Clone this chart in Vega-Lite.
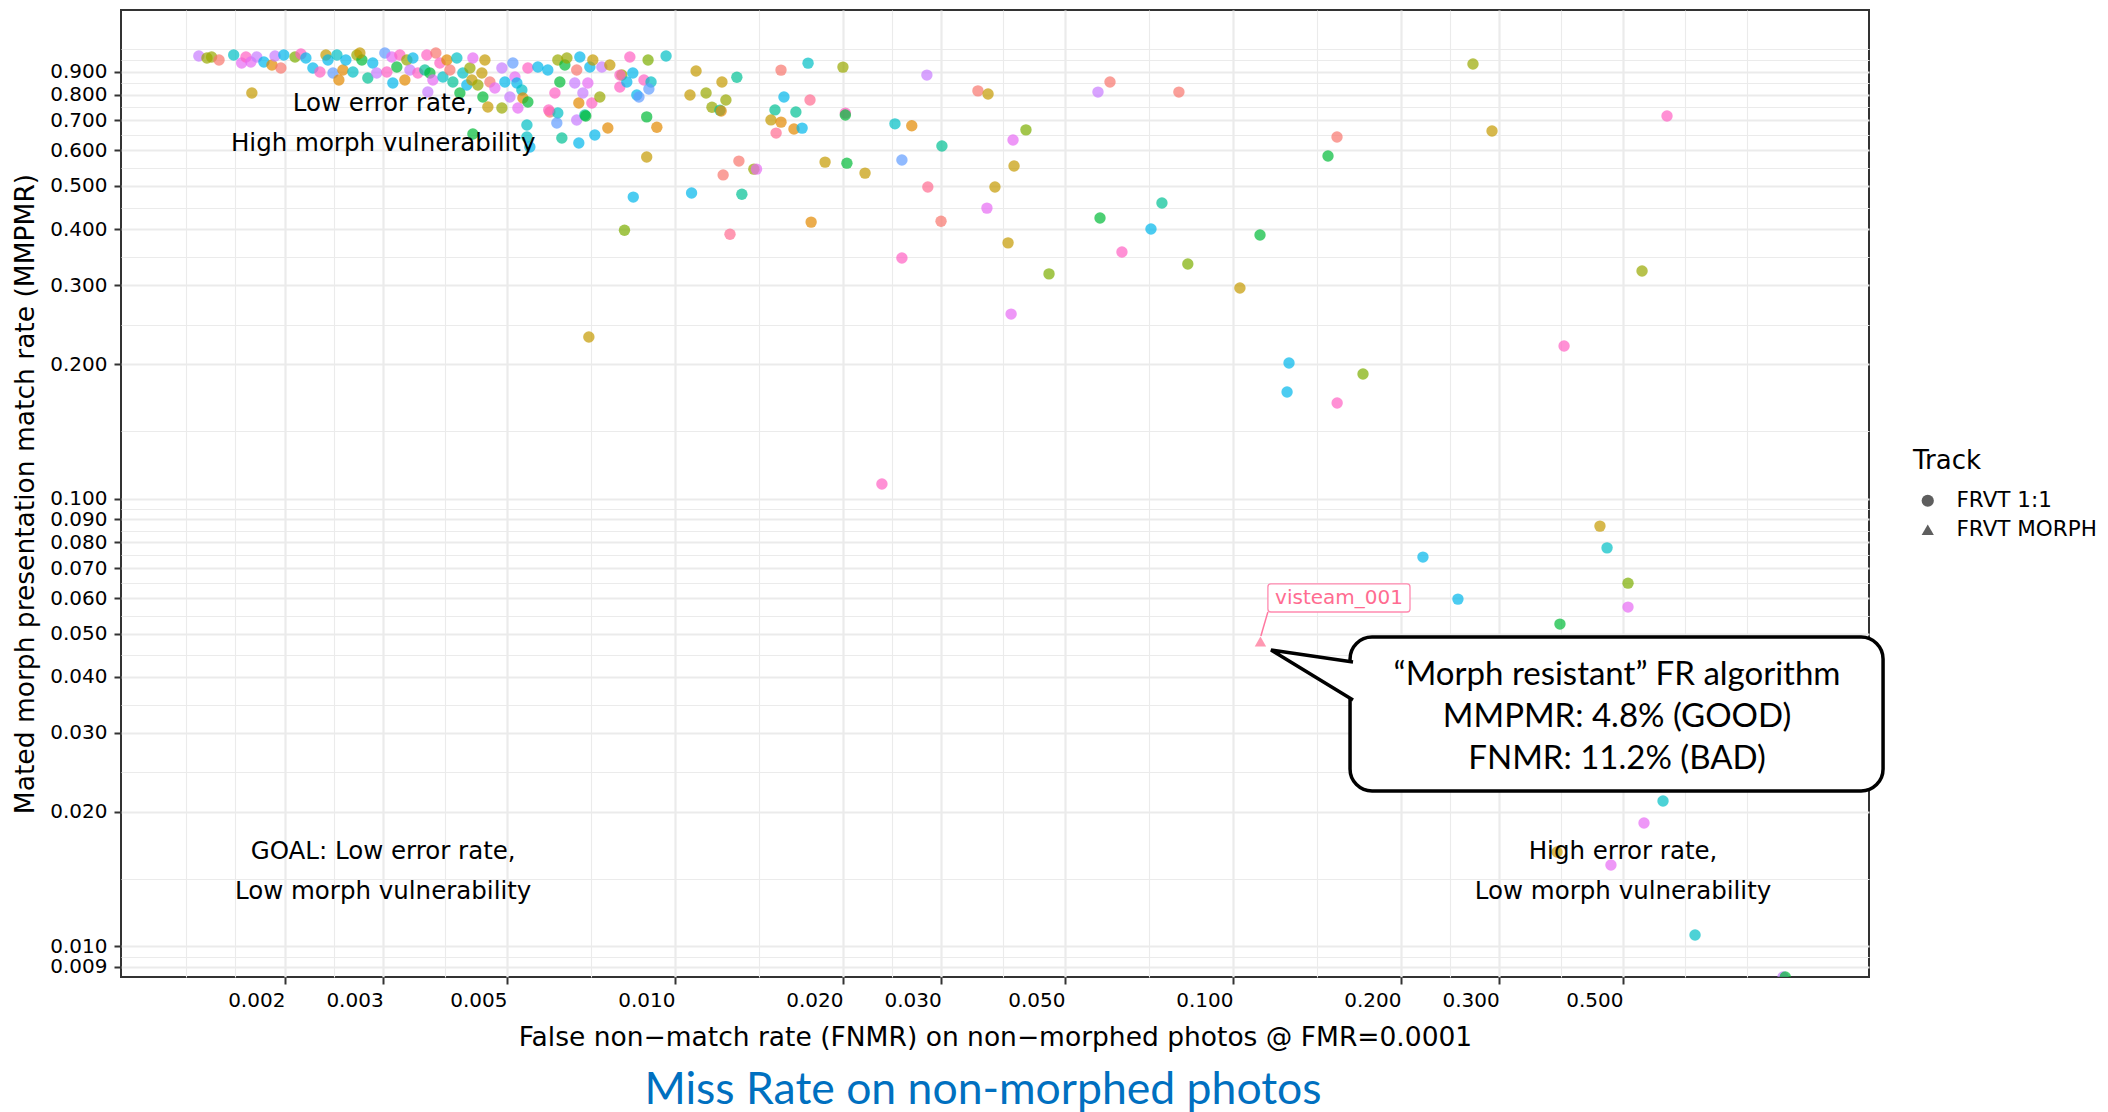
{
"$schema": "https://vega.github.io/schema/vega-lite/v6.json",
"width": 1748, "height": 967,
"autosize": {"type": "none"},
"padding": {"left": 121, "top": 10, "right": 239, "bottom": 135},
"background": "white",
"title": {"text": "Miss Rate on non-morphed photos", "orient": "bottom", "anchor": "middle", "font": "Lato", "fontSize": 44.5, "fontWeight": "normal", "color": "#0070C0", "offset": 18, "dx": -12},
"config": {"view": {"stroke": "#333333", "strokeWidth": 2}, "font": "DejaVu Sans"},
"datasets": {
"pts": [
{"fnmr":0.001402,"mmpmr":0.9751,"dev":"P","track":"FRVT 1:1"},
{"fnmr":0.00145,"mmpmr":0.9652,"dev":"V","track":"FRVT 1:1"},
{"fnmr":0.001478,"mmpmr":0.9701,"dev":"V","track":"FRVT 1:1"},
{"fnmr":0.001524,"mmpmr":0.9553,"dev":"S","track":"FRVT 1:1"},
{"fnmr":0.001619,"mmpmr":0.9801,"dev":"Q","track":"FRVT 1:1"},
{"fnmr":0.001673,"mmpmr":0.9406,"dev":"M","track":"FRVT 1:1"},
{"fnmr":0.001703,"mmpmr":0.9701,"dev":"K","track":"FRVT 1:1"},
{"fnmr":0.001738,"mmpmr":0.9455,"dev":"M","track":"FRVT 1:1"},
{"fnmr":0.001781,"mmpmr":0.9701,"dev":"P","track":"FRVT 1:1"},
{"fnmr":0.001834,"mmpmr":0.9455,"dev":"C","track":"FRVT 1:1"},
{"fnmr":0.001896,"mmpmr":0.931,"dev":"O","track":"FRVT 1:1"},
{"fnmr":0.00192,"mmpmr":0.9751,"dev":"P","track":"FRVT 1:1"},
{"fnmr":0.001967,"mmpmr":0.9168,"dev":"S","track":"FRVT 1:1"},
{"fnmr":0.001991,"mmpmr":0.9801,"dev":"C","track":"FRVT 1:1"},
{"fnmr":0.002085,"mmpmr":0.9701,"dev":"L","track":"FRVT 1:1"},
{"fnmr":0.002137,"mmpmr":0.985,"dev":"K","track":"FRVT 1:1"},
{"fnmr":0.002181,"mmpmr":0.9652,"dev":"C","track":"FRVT 1:1"},
{"fnmr":0.002245,"mmpmr":0.9168,"dev":"C","track":"FRVT 1:1"},
{"fnmr":0.002311,"mmpmr":0.8981,"dev":"K","track":"FRVT 1:1"},
{"fnmr":0.002369,"mmpmr":0.9801,"dev":"G","track":"FRVT 1:1"},
{"fnmr":0.002389,"mmpmr":0.9553,"dev":"C","track":"FRVT 1:1"},
{"fnmr":0.002439,"mmpmr":0.8935,"dev":"B","track":"FRVT 1:1"},
{"fnmr":0.002479,"mmpmr":0.9801,"dev":"Q","track":"FRVT 1:1"},
{"fnmr":0.002499,"mmpmr":0.8619,"dev":"O","track":"FRVT 1:1"},
{"fnmr":0.002541,"mmpmr":0.9073,"dev":"O","track":"FRVT 1:1"},
{"fnmr":0.002572,"mmpmr":0.9553,"dev":"C","track":"FRVT 1:1"},
{"fnmr":0.002648,"mmpmr":0.8981,"dev":"Q","track":"FRVT 1:1"},
{"fnmr":0.002692,"mmpmr":0.9801,"dev":"V","track":"FRVT 1:1"},
{"fnmr":0.002748,"mmpmr":0.9553,"dev":"N","track":"FRVT 1:1"},
{"fnmr":0.002725,"mmpmr":0.9903,"dev":"G","track":"FRVT 1:1"},
{"fnmr":0.002816,"mmpmr":0.8708,"dev":"T","track":"FRVT 1:1"},
{"fnmr":0.002874,"mmpmr":0.9406,"dev":"C","track":"FRVT 1:1"},
{"fnmr":0.002921,"mmpmr":0.8935,"dev":"P","track":"FRVT 1:1"},
{"fnmr":0.003021,"mmpmr":0.9903,"dev":"B","track":"FRVT 1:1"},
{"fnmr":0.003046,"mmpmr":0.8981,"dev":"K","track":"FRVT 1:1"},
{"fnmr":0.003109,"mmpmr":0.9701,"dev":"M","track":"FRVT 1:1"},
{"fnmr":0.003122,"mmpmr":0.8487,"dev":"C","track":"FRVT 1:1"},
{"fnmr":0.003174,"mmpmr":0.9215,"dev":"N","track":"FRVT 1:1"},
{"fnmr":0.003214,"mmpmr":0.9801,"dev":"K","track":"FRVT 1:1"},
{"fnmr":0.003281,"mmpmr":0.8619,"dev":"O","track":"FRVT 1:1"},
{"fnmr":0.003308,"mmpmr":0.9553,"dev":"V","track":"FRVT 1:1"},
{"fnmr":0.00335,"mmpmr":0.9073,"dev":"P","track":"FRVT 1:1"},
{"fnmr":0.003392,"mmpmr":0.9652,"dev":"C","track":"FRVT 1:1"},
{"fnmr":0.003462,"mmpmr":0.8935,"dev":"K","track":"FRVT 1:1"},
{"fnmr":0.003563,"mmpmr":0.9073,"dev":"T","track":"FRVT 1:1"},
{"fnmr":0.003592,"mmpmr":0.9801,"dev":"K","track":"FRVT 1:1"},
{"fnmr":0.003607,"mmpmr":0.8103,"dev":"P","track":"FRVT 1:1"},
{"fnmr":0.003638,"mmpmr":0.8935,"dev":"N","track":"FRVT 1:1"},
{"fnmr":0.003683,"mmpmr":0.8619,"dev":"M","track":"FRVT 1:1"},
{"fnmr":0.003729,"mmpmr":0.9903,"dev":"S","track":"FRVT 1:1"},
{"fnmr":0.003791,"mmpmr":0.9406,"dev":"K","track":"FRVT 1:1"},
{"fnmr":0.003839,"mmpmr":0.8753,"dev":"Q","track":"FRVT 1:1"},
{"fnmr":0.003902,"mmpmr":0.9553,"dev":"O","track":"FRVT 1:1"},
{"fnmr":0.003951,"mmpmr":0.9073,"dev":"S","track":"FRVT 1:1"},
{"fnmr":0.004,"mmpmr":0.853,"dev":"T","track":"FRVT 1:1"},
{"fnmr":0.004066,"mmpmr":0.9652,"dev":"Q","track":"FRVT 1:1"},
{"fnmr":0.004117,"mmpmr":0.8061,"dev":"N","track":"FRVT 1:1"},
{"fnmr":0.004168,"mmpmr":0.8935,"dev":"Q","track":"FRVT 1:1"},
{"fnmr":0.004237,"mmpmr":0.84,"dev":"C","track":"FRVT 1:1"},
{"fnmr":0.004291,"mmpmr":0.9168,"dev":"V","track":"FRVT 1:1"},
{"fnmr":0.004326,"mmpmr":0.8619,"dev":"G","track":"FRVT 1:1"},
{"fnmr":0.004344,"mmpmr":0.9652,"dev":"M","track":"FRVT 1:1"},
{"fnmr":0.004434,"mmpmr":0.84,"dev":"V","track":"FRVT 1:1"},
{"fnmr":0.004508,"mmpmr":0.8935,"dev":"G","track":"FRVT 1:1"},
{"fnmr":0.004565,"mmpmr":0.9553,"dev":"G","track":"FRVT 1:1"},
{"fnmr":0.004527,"mmpmr":0.7897,"dev":"N","track":"FRVT 1:1"},
{"fnmr":0.004621,"mmpmr":0.7501,"dev":"G","track":"FRVT 1:1"},
{"fnmr":0.00466,"mmpmr":0.853,"dev":"S","track":"FRVT 1:1"},
{"fnmr":0.004757,"mmpmr":0.8271,"dev":"M","track":"FRVT 1:1"},
{"fnmr":0.004896,"mmpmr":0.9168,"dev":"P","track":"FRVT 1:1"},
{"fnmr":0.004896,"mmpmr":0.7462,"dev":"V","track":"FRVT 1:1"},
{"fnmr":0.004957,"mmpmr":0.853,"dev":"C","track":"FRVT 1:1"},
{"fnmr":0.005061,"mmpmr":0.7897,"dev":"P","track":"FRVT 1:1"},
{"fnmr":0.005124,"mmpmr":0.9406,"dev":"B","track":"FRVT 1:1"},
{"fnmr":0.005167,"mmpmr":0.8753,"dev":"M","track":"FRVT 1:1"},
{"fnmr":0.005209,"mmpmr":0.8487,"dev":"C","track":"FRVT 1:1"},
{"fnmr":0.005231,"mmpmr":0.7462,"dev":"M","track":"FRVT 1:1"},
{"fnmr":0.005317,"mmpmr":0.8187,"dev":"Q","track":"FRVT 1:1"},
{"fnmr":0.00534,"mmpmr":0.7857,"dev":"O","track":"FRVT 1:1"},
{"fnmr":0.005451,"mmpmr":0.9168,"dev":"K","track":"FRVT 1:1"},
{"fnmr":0.005429,"mmpmr":0.6838,"dev":"Q","track":"FRVT 1:1"},
{"fnmr":0.005451,"mmpmr":0.7696,"dev":"N","track":"FRVT 1:1"},
{"fnmr":0.005429,"mmpmr":0.6429,"dev":"Q","track":"FRVT 1:1"},
{"fnmr":0.005496,"mmpmr":0.6106,"dev":"C","track":"FRVT 1:1"},
{"fnmr":0.00568,"mmpmr":0.9215,"dev":"C","track":"FRVT 1:1"},
{"fnmr":0.005918,"mmpmr":0.9073,"dev":"C","track":"FRVT 1:1"},
{"fnmr":0.005968,"mmpmr":0.731,"dev":"S","track":"FRVT 1:1"},
{"fnmr":0.006167,"mmpmr":0.9553,"dev":"V","track":"FRVT 1:1"},
{"fnmr":0.006219,"mmpmr":0.853,"dev":"N","track":"FRVT 1:1"},
{"fnmr":0.006094,"mmpmr":0.8061,"dev":"K","track":"FRVT 1:1"},
{"fnmr":0.006167,"mmpmr":0.7273,"dev":"Q","track":"FRVT 1:1"},
{"fnmr":0.006142,"mmpmr":0.6908,"dev":"B","track":"FRVT 1:1"},
{"fnmr":0.00635,"mmpmr":0.931,"dev":"N","track":"FRVT 1:1"},
{"fnmr":0.006403,"mmpmr":0.9652,"dev":"V","track":"FRVT 1:1"},
{"fnmr":0.006271,"mmpmr":0.6396,"dev":"T","track":"FRVT 1:1"},
{"fnmr":0.006614,"mmpmr":0.8487,"dev":"P","track":"FRVT 1:1"},
{"fnmr":0.006668,"mmpmr":0.9073,"dev":"S","track":"FRVT 1:1"},
{"fnmr":0.006726,"mmpmr":0.7657,"dev":"O","track":"FRVT 1:1"},
{"fnmr":0.006668,"mmpmr":0.7015,"dev":"P","track":"FRVT 1:1"},
{"fnmr":0.006726,"mmpmr":0.6233,"dev":"C","track":"FRVT 1:1"},
{"fnmr":0.006754,"mmpmr":0.9701,"dev":"C","track":"FRVT 1:1"},
{"fnmr":0.006895,"mmpmr":0.7198,"dev":"T","track":"FRVT 1:1"},
{"fnmr":0.006839,"mmpmr":0.8061,"dev":"P","track":"FRVT 1:1"},
{"fnmr":0.006981,"mmpmr":0.8487,"dev":"M","track":"FRVT 1:1"},
{"fnmr":0.007039,"mmpmr":0.9215,"dev":"C","track":"FRVT 1:1"},
{"fnmr":0.007097,"mmpmr":0.7657,"dev":"K","track":"FRVT 1:1"},
{"fnmr":0.007126,"mmpmr":0.9553,"dev":"G","track":"FRVT 1:1"},
{"fnmr":0.007185,"mmpmr":0.6496,"dev":"C","track":"FRVT 1:1"},
{"fnmr":0.007335,"mmpmr":0.7897,"dev":"V","track":"FRVT 1:1"},
{"fnmr":0.007396,"mmpmr":0.9215,"dev":"P","track":"FRVT 1:1"},
{"fnmr":0.007644,"mmpmr":0.931,"dev":"G","track":"FRVT 1:1"},
{"fnmr":0.007581,"mmpmr":0.6734,"dev":"O","track":"FRVT 1:1"},
{"fnmr":0.007966,"mmpmr":0.8314,"dev":"K","track":"FRVT 1:1"},
{"fnmr":0.008032,"mmpmr":0.8844,"dev":"V","track":"FRVT 1:1"},
{"fnmr":0.008199,"mmpmr":0.853,"dev":"C","track":"FRVT 1:1"},
{"fnmr":0.008302,"mmpmr":0.9701,"dev":"K","track":"FRVT 1:1"},
{"fnmr":0.008405,"mmpmr":0.8935,"dev":"C","track":"FRVT 1:1"},
{"fnmr":0.008544,"mmpmr":0.7979,"dev":"C","track":"FRVT 1:1"},
{"fnmr":0.001745,"mmpmr":0.8061,"dev":"G","track":"FRVT 1:1"},
{"fnmr":0.004344,"mmpmr":0.6529,"dev":"N","track":"FRVT 1:1"},
{"fnmr":0.00594,"mmpmr":0.7386,"dev":"K","track":"FRVT 1:1"},
{"fnmr":0.00692,"mmpmr":0.7161,"dev":"N","track":"FRVT 1:1"},
{"fnmr":0.00895,"mmpmr":0.955,"dev":"L","track":"FRVT 1:1"},
{"fnmr":0.00964,"mmpmr":0.975,"dev":"Q","track":"FRVT 1:1"},
{"fnmr":0.00797,"mmpmr":0.884,"dev":"K","track":"FRVT 1:1"},
{"fnmr":0.0088,"mmpmr":0.862,"dev":"K","track":"FRVT 1:1"},
{"fnmr":0.00906,"mmpmr":0.853,"dev":"Q","track":"FRVT 1:1"},
{"fnmr":0.00898,"mmpmr":0.823,"dev":"B","track":"FRVT 1:1"},
{"fnmr":0.00862,"mmpmr":0.79,"dev":"B","track":"FRVT 1:1"},
{"fnmr":0.0089,"mmpmr":0.713,"dev":"N","track":"FRVT 1:1"},
{"fnmr":0.00928,"mmpmr":0.676,"dev":"O","track":"FRVT 1:1"},
{"fnmr":0.0089,"mmpmr":0.58,"dev":"G","track":"FRVT 1:1"},
{"fnmr":0.00842,"mmpmr":0.472,"dev":"C","track":"FRVT 1:1"},
{"fnmr":0.00812,"mmpmr":0.398,"dev":"L","track":"FRVT 1:1"},
{"fnmr":0.01091,"mmpmr":0.903,"dev":"G","track":"FRVT 1:1"},
{"fnmr":0.01214,"mmpmr":0.853,"dev":"G","track":"FRVT 1:1"},
{"fnmr":0.01291,"mmpmr":0.874,"dev":"T","track":"FRVT 1:1"},
{"fnmr":0.01064,"mmpmr":0.798,"dev":"G","track":"FRVT 1:1"},
{"fnmr":0.01137,"mmpmr":0.806,"dev":"V","track":"FRVT 1:1"},
{"fnmr":0.01234,"mmpmr":0.778,"dev":"V","track":"FRVT 1:1"},
{"fnmr":0.01165,"mmpmr":0.749,"dev":"V","track":"FRVT 1:1"},
{"fnmr":0.01204,"mmpmr":0.738,"dev":"T","track":"FRVT 1:1"},
{"fnmr":0.0121,"mmpmr":0.735,"dev":"O","track":"FRVT 1:1"},
{"fnmr":0.01302,"mmpmr":0.568,"dev":"S","track":"FRVT 1:1"},
{"fnmr":0.0122,"mmpmr":0.529,"dev":"S","track":"FRVT 1:1"},
{"fnmr":0.01385,"mmpmr":0.545,"dev":"V","track":"FRVT 1:1"},
{"fnmr":0.014,"mmpmr":0.545,"dev":"M","track":"FRVT 1:1"},
{"fnmr":0.01071,"mmpmr":0.482,"dev":"C","track":"FRVT 1:1"},
{"fnmr":0.01318,"mmpmr":0.479,"dev":"T","track":"FRVT 1:1"},
{"fnmr":0.01255,"mmpmr":0.39,"dev":"R","track":"FRVT 1:1"},
{"fnmr":0.01549,"mmpmr":0.907,"dev":"S","track":"FRVT 1:1"},
{"fnmr":0.01732,"mmpmr":0.94,"dev":"Q","track":"FRVT 1:1"},
{"fnmr":0.02,"mmpmr":0.921,"dev":"V","track":"FRVT 1:1"},
{"fnmr":0.01568,"mmpmr":0.79,"dev":"C","track":"FRVT 1:1"},
{"fnmr":0.01746,"mmpmr":0.778,"dev":"R","track":"FRVT 1:1"},
{"fnmr":0.01511,"mmpmr":0.739,"dev":"T","track":"FRVT 1:1"},
{"fnmr":0.01647,"mmpmr":0.731,"dev":"T","track":"FRVT 1:1"},
{"fnmr":0.0202,"mmpmr":0.727,"dev":"K","track":"FRVT 1:1"},
{"fnmr":0.0202,"mmpmr":0.72,"dev":"N","track":"FRVT 1:1"},
{"fnmr":0.01486,"mmpmr":0.702,"dev":"G","track":"FRVT 1:1"},
{"fnmr":0.01549,"mmpmr":0.694,"dev":"O","track":"FRVT 1:1"},
{"fnmr":0.01518,"mmpmr":0.656,"dev":"R","track":"FRVT 1:1"},
{"fnmr":0.01634,"mmpmr":0.67,"dev":"O","track":"FRVT 1:1"},
{"fnmr":0.0169,"mmpmr":0.673,"dev":"C","track":"FRVT 1:1"},
{"fnmr":0.01858,"mmpmr":0.565,"dev":"G","track":"FRVT 1:1"},
{"fnmr":0.02033,"mmpmr":0.562,"dev":"N","track":"FRVT 1:1"},
{"fnmr":0.02191,"mmpmr":0.534,"dev":"G","track":"FRVT 1:1"},
{"fnmr":0.01754,"mmpmr":0.415,"dev":"O","track":"FRVT 1:1"},
{"fnmr":0.02479,"mmpmr":0.688,"dev":"Q","track":"FRVT 1:1"},
{"fnmr":0.02657,"mmpmr":0.681,"dev":"O","track":"FRVT 1:1"},
{"fnmr":0.02828,"mmpmr":0.884,"dev":"P","track":"FRVT 1:1"},
{"fnmr":0.02551,"mmpmr":0.571,"dev":"B","track":"FRVT 1:1"},
{"fnmr":0.02839,"mmpmr":0.497,"dev":"R","track":"FRVT 1:1"},
{"fnmr":0.02551,"mmpmr":0.345,"dev":"K","track":"FRVT 1:1"},
{"fnmr":0.03009,"mmpmr":0.614,"dev":"T","track":"FRVT 1:1"},
{"fnmr":0.03491,"mmpmr":0.815,"dev":"S","track":"FRVT 1:1"},
{"fnmr":0.0364,"mmpmr":0.802,"dev":"G","track":"FRVT 1:1"},
{"fnmr":0.04035,"mmpmr":0.633,"dev":"M","track":"FRVT 1:1"},
{"fnmr":0.04256,"mmpmr":0.667,"dev":"L","track":"FRVT 1:1"},
{"fnmr":0.04052,"mmpmr":0.554,"dev":"G","track":"FRVT 1:1"},
{"fnmr":0.03745,"mmpmr":0.497,"dev":"G","track":"FRVT 1:1"},
{"fnmr":0.03623,"mmpmr":0.446,"dev":"M","track":"FRVT 1:1"},
{"fnmr":0.02998,"mmpmr":0.417,"dev":"S","track":"FRVT 1:1"},
{"fnmr":0.03953,"mmpmr":0.373,"dev":"G","track":"FRVT 1:1"},
{"fnmr":0.04003,"mmpmr":0.2586,"dev":"M","track":"FRVT 1:1"},
{"fnmr":0.04681,"mmpmr":0.318,"dev":"L","track":"FRVT 1:1"},
{"fnmr":0.05729,"mmpmr":0.81,"dev":"P","track":"FRVT 1:1"},
{"fnmr":0.0602,"mmpmr":0.853,"dev":"S","track":"FRVT 1:1"},
{"fnmr":0.08,"mmpmr":0.81,"dev":"S","track":"FRVT 1:1"},
{"fnmr":0.05777,"mmpmr":0.424,"dev":"N","track":"FRVT 1:1"},
{"fnmr":0.07459,"mmpmr":0.458,"dev":"T","track":"FRVT 1:1"},
{"fnmr":0.07129,"mmpmr":0.4005,"dev":"C","track":"FRVT 1:1"},
{"fnmr":0.06324,"mmpmr":0.3559,"dev":"K","track":"FRVT 1:1"},
{"fnmr":0.083,"mmpmr":0.3346,"dev":"L","track":"FRVT 1:1"},
{"fnmr":0.1118,"mmpmr":0.3884,"dev":"N","track":"FRVT 1:1"},
{"fnmr":0.1029,"mmpmr":0.2957,"dev":"G","track":"FRVT 1:1"},
{"fnmr":0.02349,"mmpmr":0.1079,"dev":"K","track":"FRVT 1:1"},
{"fnmr":0.00701,"mmpmr":0.2298,"dev":"G","track":"FRVT 1:1"},
{"fnmr":0.2692,"mmpmr":0.936,"dev":"V","track":"FRVT 1:1"},
{"fnmr":0.2912,"mmpmr":0.663,"dev":"G","track":"FRVT 1:1"},
{"fnmr":0.5995,"mmpmr":0.7161,"dev":"K","track":"FRVT 1:1"},
{"fnmr":0.1536,"mmpmr":0.6429,"dev":"S","track":"FRVT 1:1"},
{"fnmr":0.148,"mmpmr":0.5832,"dev":"N","track":"FRVT 1:1"},
{"fnmr":0.5408,"mmpmr":0.3227,"dev":"V","track":"FRVT 1:1"},
{"fnmr":0.392,"mmpmr":0.2194,"dev":"K","track":"FRVT 1:1"},
{"fnmr":0.126,"mmpmr":0.201,"dev":"C","track":"FRVT 1:1"},
{"fnmr":0.171,"mmpmr":0.19,"dev":"L","track":"FRVT 1:1"},
{"fnmr":0.125,"mmpmr":0.1732,"dev":"C","track":"FRVT 1:1"},
{"fnmr":0.1537,"mmpmr":0.1637,"dev":"K","track":"FRVT 1:1"},
{"fnmr":0.4546,"mmpmr":0.0869,"dev":"G","track":"FRVT 1:1"},
{"fnmr":0.4681,"mmpmr":0.0777,"dev":"Q","track":"FRVT 1:1"},
{"fnmr":0.219,"mmpmr":0.0741,"dev":"C","track":"FRVT 1:1"},
{"fnmr":0.5104,"mmpmr":0.0648,"dev":"L","track":"FRVT 1:1"},
{"fnmr":0.253,"mmpmr":0.0597,"dev":"C","track":"FRVT 1:1"},
{"fnmr":0.5104,"mmpmr":0.0573,"dev":"M","track":"FRVT 1:1"},
{"fnmr":0.3854,"mmpmr":0.0525,"dev":"N","track":"FRVT 1:1"},
{"fnmr":0.5897,"mmpmr":0.02113,"dev":"Q","track":"FRVT 1:1"},
{"fnmr":0.5452,"mmpmr":0.01887,"dev":"M","track":"FRVT 1:1"},
{"fnmr":0.3808,"mmpmr":0.01626,"dev":"G","track":"FRVT 1:1"},
{"fnmr":0.4757,"mmpmr":0.01521,"dev":"M","track":"FRVT 1:1"},
{"fnmr":0.673,"mmpmr":0.01061,"dev":"Q","track":"FRVT 1:1"},
{"fnmr":0.9676,"mmpmr":0.00855,"dev":"P","track":"FRVT 1:1"},
{"fnmr":0.9766,"mmpmr":0.00855,"dev":"N","track":"FRVT 1:1"},
{"fnmr":0.112,"mmpmr":0.048,"dev":"visteam","track":"FRVT MORPH"}
],
"notes": [
{"fnmr":0.003,"mmpmr":0.7,"label":"Low error rate,\nHigh morph vulnerability"},
{"fnmr":0.003,"mmpmr":0.015,"label":"GOAL: Low error rate,\nLow morph vulnerability"},
{"fnmr":0.5,"mmpmr":0.015,"label":"High error rate,\nLow morph vulnerability"}
],
"box": [{"fnmr":0.1621,"fnmr2":1.462,"mmpmr":0.04913,"mmpmr2":0.02225}],
"tailfill": [
{"fnmr":0.117,"mmpmr":0.04596,"mmpmr2":0.04596},
{"fnmr":0.1645,"mmpmr":0.0432,"mmpmr2":0.03552}
],
"tail": [
{"fnmr":0.1641,"mmpmr":0.0432,"seq":1},
{"fnmr":0.117,"mmpmr":0.04596,"seq":2},
{"fnmr":0.1641,"mmpmr":0.03552,"seq":3}
],
"boxtext": [{"fnmr":0.4878,"mmpmr":0.03256,"label":"“Morph resistant” FR algorithm\nMMPMR: 4.8% (GOOD)\nFNMR: 11.2% (BAD)"}],
"leader": [{"fnmr":0.1122,"mmpmr":0.0494,"fnmr2":0.1155,"mmpmr2":0.0559}],
"tagbox": [{"fnmr":0.1155,"fnmr2":0.2076,"mmpmr":0.06453,"mmpmr2":0.05587}],
"tag": [{"fnmr":0.1549,"mmpmr":0.06003,"label":"visteam_001"}]
},
"encoding": {
"x": {"field": "fnmr", "type": "quantitative",
 "scale": {"type": "log", "domain": [0.001017, 1.3796], "nice": false, "zero": false},
 "axis": {"title": "False non−match rate (FNMR) on non−morphed photos @ FMR=0.0001",
  "values": [0.00133,0.00163,0.002,0.00245,0.003,0.00387,0.005,0.00707,0.01,0.01414,0.02,0.02449,0.03,0.03873,0.05,0.07071,0.1,0.1414,0.2,0.2449,0.3,0.3873,0.5,0.6455,0.8333],
  "labelExpr": "indexof([0.002,0.003,0.005,0.01,0.02,0.03,0.05,0.1,0.2,0.3,0.5], datum.value) >= 0 ? format(datum.value, '.3f') : ''",
  "gridWidth": {"condition": {"test": "indexof([0.002,0.003,0.005,0.01,0.02,0.03,0.05,0.1,0.2,0.3,0.5], datum.value) >= 0", "value": 2.2}, "value": 1.1},
  "tickOpacity": {"condition": {"test": "indexof([0.002,0.003,0.005,0.01,0.02,0.03,0.05,0.1,0.2,0.3,0.5], datum.value) >= 0", "value": 1}, "value": 0},
  "gridColor": "#EBEBEB", "labelOverlap": false, "domain": false, "tickSize": 7, "tickWidth": 2, "tickColor": "#333333",
  "labelFont": "DejaVu Sans", "labelFontSize": 20, "labelColor": "#000000", "labelPadding": 6, "labelAlign": "right",
  "titleFont": "DejaVu Sans", "titleFontSize": 26.5, "titleFontWeight": "normal", "titleColor": "#000000", "titlePadding": 14}},
"y": {"field": "mmpmr", "type": "quantitative",
 "scale": {"type": "log", "domain": [0.008548, 1.2355], "nice": false, "zero": false},
 "axis": {"title": "Mated morph presentation match rate (MMPMR)",
  "values": [0.009,0.009487,0.01,0.01414,0.02,0.02449,0.03,0.03464,0.04,0.04472,0.05,0.05477,0.06,0.06481,0.07,0.07483,0.08,0.08485,0.09,0.09487,0.1,0.1414,0.2,0.2449,0.3,0.3464,0.4,0.4472,0.5,0.5477,0.6,0.6481,0.7,0.7483,0.8,0.8485,0.9,0.9546,1.0125],
  "labelExpr": "indexof([0.009,0.01,0.02,0.03,0.04,0.05,0.06,0.07,0.08,0.09,0.1,0.2,0.3,0.4,0.5,0.6,0.7,0.8,0.9], datum.value) >= 0 ? format(datum.value, '.3f') : ''",
  "gridWidth": {"condition": {"test": "indexof([0.009,0.01,0.02,0.03,0.04,0.05,0.06,0.07,0.08,0.09,0.1,0.2,0.3,0.4,0.5,0.6,0.7,0.8,0.9], datum.value) >= 0", "value": 2.2}, "value": 1.1},
  "tickOpacity": {"condition": {"test": "indexof([0.009,0.01,0.02,0.03,0.04,0.05,0.06,0.07,0.08,0.09,0.1,0.2,0.3,0.4,0.5,0.6,0.7,0.8,0.9], datum.value) >= 0", "value": 1}, "value": 0},
  "gridColor": "#EBEBEB", "labelOverlap": false, "domain": false, "tickSize": 7, "tickWidth": 2, "tickColor": "#333333",
  "labelFont": "DejaVu Sans", "labelFontSize": 20, "labelColor": "#000000", "labelPadding": 7,
  "titleFont": "DejaVu Sans", "titleFontSize": 26.5, "titleFontWeight": "normal", "titleColor": "#000000", "titlePadding": 10}}
},
"layer": [
{
"data": {"name": "pts"},
"mark": {"type": "point", "filled": true, "opacity": 0.7, "size": 130, "strokeWidth": 0, "clip": true},
"encoding": {
"color": {"field": "dev", "type": "nominal", "legend": null,
 "scale": {"domain": ["S","O","G","V","L","N","T","Q","C","B","P","M","K","R","visteam"],
  "range": ["#F8766D","#E38900","#C49A00","#99A800","#7CAE00","#00BA38","#00C094","#00BFC4","#00B6EB","#619CFF","#C77CFF","#E76BF3","#FF61C3","#FF6C91","#FF6C91"]}},
"shape": {"field": "track", "type": "nominal",
 "scale": {"domain": ["FRVT 1:1","FRVT MORPH"], "range": ["circle","triangle-up"]},
 "legend": {"title": "Track", "orient": "none", "legendX": 1792, "legendY": 438, "padding": 0,
  "titleFont": "DejaVu Sans", "titleFontSize": 26, "titleFontWeight": "normal", "titleColor": "#000000", "titlePadding": 16,
  "labelFont": "DejaVu Sans", "labelFontSize": 21.5, "labelColor": "#000000", "labelOffset": 18,
  "symbolFillColor": "#5e5e5e", "symbolStrokeWidth": 0, "symbolSize": 150, "symbolOpacity": 1, "symbolOffset": 4, "rowPadding": 6}}
}
},
{
"data": {"name": "notes"},
"mark": {"type": "text", "font": "DejaVu Sans", "fontSize": 24.5, "lineHeight": 40, "dy": -16, "align": "center", "baseline": "middle", "lineBreak": "\n", "color": "#000000"},
"encoding": {"text": {"field": "label"}}
},
{
"data": {"name": "box"},
"mark": {"type": "rect", "fill": "white", "stroke": "#000000", "strokeWidth": 3.5, "cornerRadius": 22},
"encoding": {"x2": {"field": "fnmr2"}, "y2": {"field": "mmpmr2"}}
},
{
"data": {"name": "tailfill"},
"mark": {"type": "area", "fill": "white", "opacity": 1, "strokeWidth": 0},
"encoding": {"y2": {"field": "mmpmr2"}}
},
{
"data": {"name": "tail"},
"mark": {"type": "line", "stroke": "#000000", "strokeWidth": 3.5, "strokeJoin": "miter"},
"encoding": {"order": {"field": "seq", "type": "quantitative"}}
},
{
"data": {"name": "boxtext"},
"mark": {"type": "text", "font": "Lato", "fontSize": 33, "lineHeight": 42, "dy": -42, "align": "center", "baseline": "middle", "lineBreak": "\n", "color": "#000000"},
"encoding": {"text": {"field": "label"}}
},
{
"data": {"name": "leader"},
"mark": {"type": "rule", "stroke": "#FF77A0", "strokeWidth": 1.5},
"encoding": {"x2": {"field": "fnmr2"}, "y2": {"field": "mmpmr2"}}
},
{
"data": {"name": "tagbox"},
"mark": {"type": "rect", "fill": "white", "stroke": "#FF8AB0", "strokeWidth": 1.3, "cornerRadius": 3},
"encoding": {"x2": {"field": "fnmr2"}, "y2": {"field": "mmpmr2"}}
},
{
"data": {"name": "tag"},
"mark": {"type": "text", "font": "DejaVu Sans", "fontSize": 20, "align": "center", "baseline": "middle", "color": "#FF6C91"},
"encoding": {"text": {"field": "label"}}
}
]
}
